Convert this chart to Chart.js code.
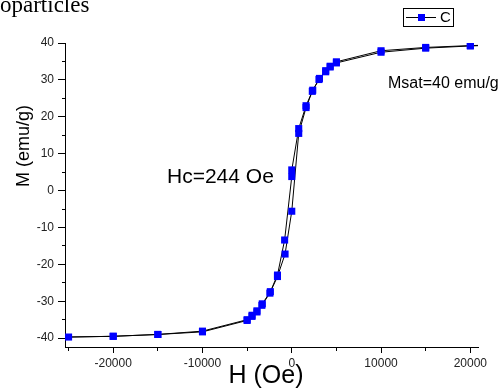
<!DOCTYPE html>
<html>
<head>
<meta charset="utf-8">
<script src="https://cdn.jsdelivr.net/npm/chart.js@4.4.0/dist/chart.umd.min.js"></script>
<style>
  html, body { margin:0; padding:0; background:#fff; }
  #wrap { width:499px; height:388px; position:relative; }
</style>
</head>
<body>
<div id="wrap"><canvas id="loopChart"></canvas></div>
<script>
// descending branch (+25 kOe -> -25 kOe), the +25 kOe point sits past the axis end
const descH = [25000, 20000, 15000, 10000, 5000, 4300, 3800, 3100, 2350, 1600, 780, 0, 0, -800, -1600, -2400, -3300, -3900, -4450, -5000, -10000, -15000, -20000, -25000];
const descM = [39.6, 39.3, 38.8, 37.9, 34.9, 33.7, 32.5, 30.4, 27.2, 23.0, 16.8, 5.6, 3.8, -13.4, -22.9, -27.4, -30.7, -32.6, -33.8, -35.0, -38.1, -39.0, -39.5, -39.7];
// ascending branch (-25 kOe -> +25 kOe)
const ascH = [-20000, -15000, -10000, -5000, -4450, -3900, -3350, -2450, -1600, -750, 0, 780, 1600, 2300, 3050, 3800, 4300, 5000, 10000, 15000, 20000, 25000];
const ascM = [-39.5, -39.0, -38.3, -35.2, -34.1, -32.9, -31.1, -27.8, -23.3, -17.2, -5.6, 15.5, 22.5, 26.9, 30.1, 32.2, 33.5, 34.6, 37.5, 38.6, 39.2, 39.6];

// tick positions (major + minor) and the ones that get a label
const xTicks = [-25000, -20000, -15000, -10000, -5000, 0, 5000, 10000, 15000, 20000];
const xTickLabels = [-20000, -10000, 0, 10000, 20000];
const yTicks = [-40, -35, -30, -25, -20, -15, -10, -5, 0, 5, 10, 15, 20, 25, 30, 35, 40];
const yTickLabels = [-40, -30, -20, -10, 0, 10, 20, 30, 40];
const seriesName = "C";

const loopH = descH.concat(ascH);
const loopM = descM.concat(ascM);
const points = loopH.map((h, i) => ({ x: h, y: loopM[i] }));

// =======================
// Text + legend overlay
// =======================
const overlayPlugin = {
  id: 'overlay',
  afterDraw(chart) {
    const ctx = chart.ctx;
    ctx.save();
    ctx.fillStyle = '#000';

    ctx.font = '23px "Liberation Serif", "Times New Roman", serif';
    ctx.textAlign = 'left';
    ctx.textBaseline = 'alphabetic';
    ctx.fillText('oparticles', 0, 12);

    ctx.font = '21px "Liberation Sans", Arial, sans-serif';
    ctx.fillText('Hc=244 Oe', 167, 183);

    ctx.font = '16px "Liberation Sans", Arial, sans-serif';
    ctx.fillText('Msat=40 emu/g', 388, 88);

    ctx.font = '25px "Liberation Sans", Arial, sans-serif';
    ctx.textAlign = 'center';
    ctx.fillText('H (Oe)', 266, 383);

    ctx.save();
    ctx.translate(24, 146);
    ctx.rotate(-Math.PI / 2);
    ctx.font = '18px "Liberation Sans", Arial, sans-serif';
    ctx.textBaseline = 'middle';
    ctx.fillText('M (emu/g)', 0, 0);
    ctx.restore();

    // legend box
    ctx.strokeStyle = '#000';
    ctx.lineWidth = 1;
    ctx.strokeRect(403.5, 8.5, 50, 18);
    ctx.beginPath();
    ctx.moveTo(406, 17.5);
    ctx.lineTo(436, 17.5);
    ctx.stroke();
    ctx.fillStyle = '#0000ff';
    ctx.fillRect(418, 14, 7, 7);
    ctx.fillStyle = '#000';
    ctx.font = '15px "Liberation Sans", Arial, sans-serif';
    ctx.textAlign = 'left';
    ctx.textBaseline = 'middle';
    ctx.fillText(seriesName, 440, 18);
    ctx.restore();
  }
};

const tickFont = { family: '"Liberation Sans", Arial, sans-serif', size: 12 };

new Chart(document.getElementById('loopChart'), {
  type: 'scatter',
  data: {
    datasets: [{
      label: seriesName,
      data: points,
      showLine: true,
      borderColor: '#000',
      borderWidth: 1,
      tension: 0,
      pointStyle: 'rect',
      pointRadius: 5,
      pointBorderWidth: 0,
      pointBackgroundColor: '#0000ff',
      pointBorderColor: '#0000ff'
    }]
  },
  options: {
    responsive: true,
    maintainAspectRatio: false,
    animation: false,
    layout: { padding: { left: 0, top: 43, right: 21, bottom: 0 } },
    plugins: { legend: { display: false }, tooltip: { enabled: false } },
    scales: {
      x: {
        type: 'linear',
        min: -25400,
        max: 20860,
        afterBuildTicks: s => { s.ticks = xTicks.map(v => ({ value: v })); },
        afterFit: s => { s.height = 41; },
        border: { display: true, color: '#000', width: 1 },
        grid: {
          drawOnChartArea: false,
          drawTicks: true,
          tickLength: 6,
          tickColor: '#000',
          tickWidth: 1,
          tickBorderDash: c => (c.tick && c.tick.value % 10000 === 0) ? [] : [3, 20]
        },
        ticks: {
          autoSkip: false,
          maxRotation: 0,
          padding: 3,
          color: '#222',
          font: tickFont,
          callback: v => xTickLabels.includes(v) ? String(v) : ''
        }
      },
      y: {
        type: 'linear',
        min: -42.4,
        max: 40,
        afterBuildTicks: s => { s.ticks = yTicks.map(v => ({ value: v })); },
        afterFit: s => { s.width = 65; },
        border: { display: true, color: '#000', width: 1 },
        grid: {
          drawOnChartArea: false,
          drawTicks: true,
          tickLength: 7,
          tickColor: '#000',
          tickWidth: 1,
          tickBorderDash: c => (c.tick && c.tick.value % 10 === 0) ? [] : [0, 4, 3, 20]
        },
        ticks: {
          autoSkip: false,
          padding: 4,
          color: '#222',
          font: tickFont,
          callback: v => yTickLabels.includes(v) ? String(v) : ''
        }
      }
    }
  },
  plugins: [overlayPlugin]
});
</script>
</body>
</html>
